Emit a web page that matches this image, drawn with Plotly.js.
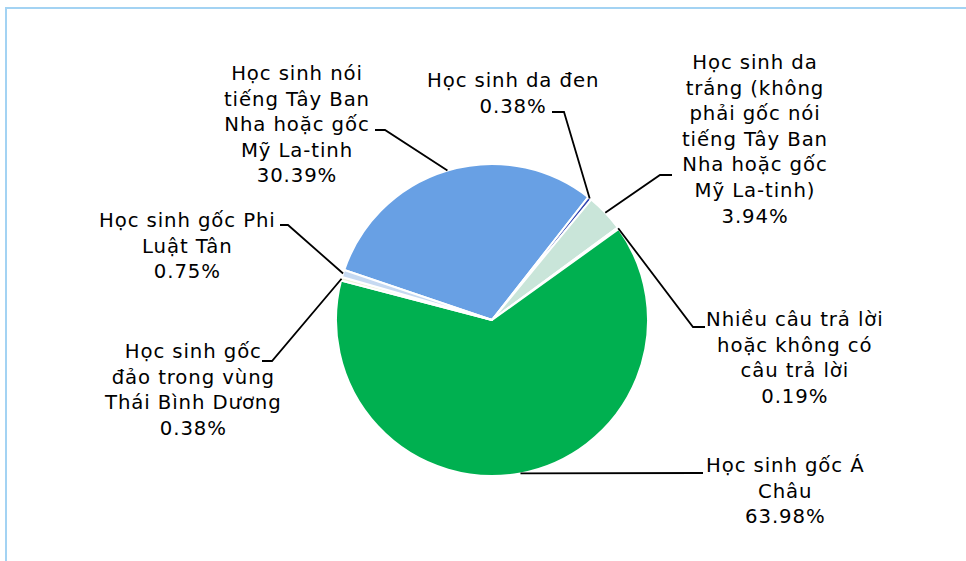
<!DOCTYPE html>
<html>
<head>
<meta charset="utf-8">
<script src="https://cdn.plot.ly/plotly-3.0.1.min.js"></script>
<style>
  html, body { margin: 0; padding: 0; background: #fff; }
  #chart { width: 966px; height: 561px; }
  .annotation-text { letter-spacing: 0.9px; }
</style>
</head>
<body>
<div id="chart"></div>
<script>
// ---- DATA ----
const categories = [
  "Học sinh nói tiếng Tây Ban Nha hoặc gốc Mỹ La-tinh",
  "Học sinh da đen",
  "Học sinh da trắng (không phải gốc nói tiếng Tây Ban Nha hoặc gốc Mỹ La-tinh)",
  "Nhiều câu trả lời hoặc không có câu trả lời",
  "Học sinh gốc Á Châu",
  "Học sinh gốc đảo trong vùng Thái Bình Dương",
  "Học sinh gốc Phi Luật Tân"
];
const percents = [30.39, 0.38, 3.94, 0.19, 63.98, 0.38, 0.75];
const labelLines = [
  ["Học sinh nói", "tiếng Tây Ban", "Nha hoặc gốc", "Mỹ La-tinh"],
  ["Học sinh da đen"],
  ["Học sinh da", "trắng (không", "phải gốc nói", "tiếng Tây Ban", "Nha hoặc gốc", "Mỹ La-tinh)"],
  ["Nhiều câu trả lời", "hoặc không có", "câu trả lời"],
  ["Học sinh gốc Á", "Châu"],
  ["Học sinh gốc", "đảo trong vùng", "Thái Bình Dương"],
  ["Học sinh gốc Phi", "Luật Tân"]
];
const sliceColors = ["#68A0E4", "#3344B0", "#C9E5D9", "#DCEBE3", "#00B050", "#EEF4DC", "#C6D9F1"];

// ---- LAYOUT (pixels) ----
const W = 966, H = 561;
const cx = 492, cy = 320, R = 156;
const startAngle = -71.3; // degrees clockwise from 12 o'clock
// label text centres and leader elbow (stub end near label, elbow point)
const labelPos = [
  {x: 297, y: 125, stub: [375, 130], elbow: [385, 130]},
  {x: 513, y: 93,  stub: [552, 112], elbow: [564, 112]},
  {x: 755, y: 140, stub: [672, 175], elbow: [660, 175]},
  {x: 795, y: 358, stub: [705, 327], elbow: [693, 327]},
  {x: 785, y: 491, stub: [703, 473], elbow: [703, 473]},
  {x: 193, y: 390, stub: [262, 361], elbow: [272, 361]},
  {x: 187, y: 246, stub: [280, 225], elbow: [288, 225]}
];

const px = x => x / W;
const py = y => 1 - y / H;

const total = percents.reduce((a, b) => a + b, 0);
const shapes = [];
const annotations = [];
let cum = 0;
percents.forEach((v, i) => {
  const mid = (startAngle + (cum + v / 2) / total * 360) * Math.PI / 180;
  cum += v;
  const ex = cx + R * Math.sin(mid);
  const ey = cy - R * Math.cos(mid);
  const L = labelPos[i];
  shapes.push({
    type: 'path', xref: 'paper', yref: 'paper',
    path: `M ${px(ex)} ${py(ey)} L ${px(L.elbow[0])} ${py(L.elbow[1])} L ${px(L.stub[0])} ${py(L.stub[1])}`,
    line: {color: '#000000', width: 1.8}
  });
  annotations.push({
    xref: 'paper', yref: 'paper', x: px(L.x), y: py(L.y),
    xanchor: 'center', yanchor: 'middle', align: 'center', showarrow: false,
    text: labelLines[i].concat([v.toFixed(2) + '%']).join('<br>'),
    font: {family: 'DejaVu Sans', size: 19.7, color: '#000000'}
  });
});

// chart frame
shapes.push({
  type: 'rect', xref: 'paper', yref: 'paper',
  x0: px(6), y0: py(575), x1: px(985), y1: py(8),
  line: {color: '#A3D3F3', width: 2}, fillcolor: 'rgba(0,0,0,0)', layer: 'below'
});

const trace = {
  type: 'pie',
  labels: categories,
  values: percents,
  sort: false,
  direction: 'clockwise',
  rotation: startAngle,
  textinfo: 'none',
  hoverinfo: 'none',
  marker: {colors: sliceColors, line: {color: '#FFFFFF', width: 2}},
  domain: {x: [px(cx - R), px(cx + R)], y: [py(cy + R), py(cy - R)]},
  showlegend: false
};

const layout = {
  width: W, height: H,
  margin: {l: 0, r: 0, t: 0, b: 0},
  paper_bgcolor: '#FFFFFF',
  showlegend: false,
  font: {family: 'DejaVu Sans'},
  shapes: shapes,
  annotations: annotations
};

Plotly.newPlot('chart', [trace], layout, {displayModeBar: false, staticPlot: true});
</script>
</body>
</html>
